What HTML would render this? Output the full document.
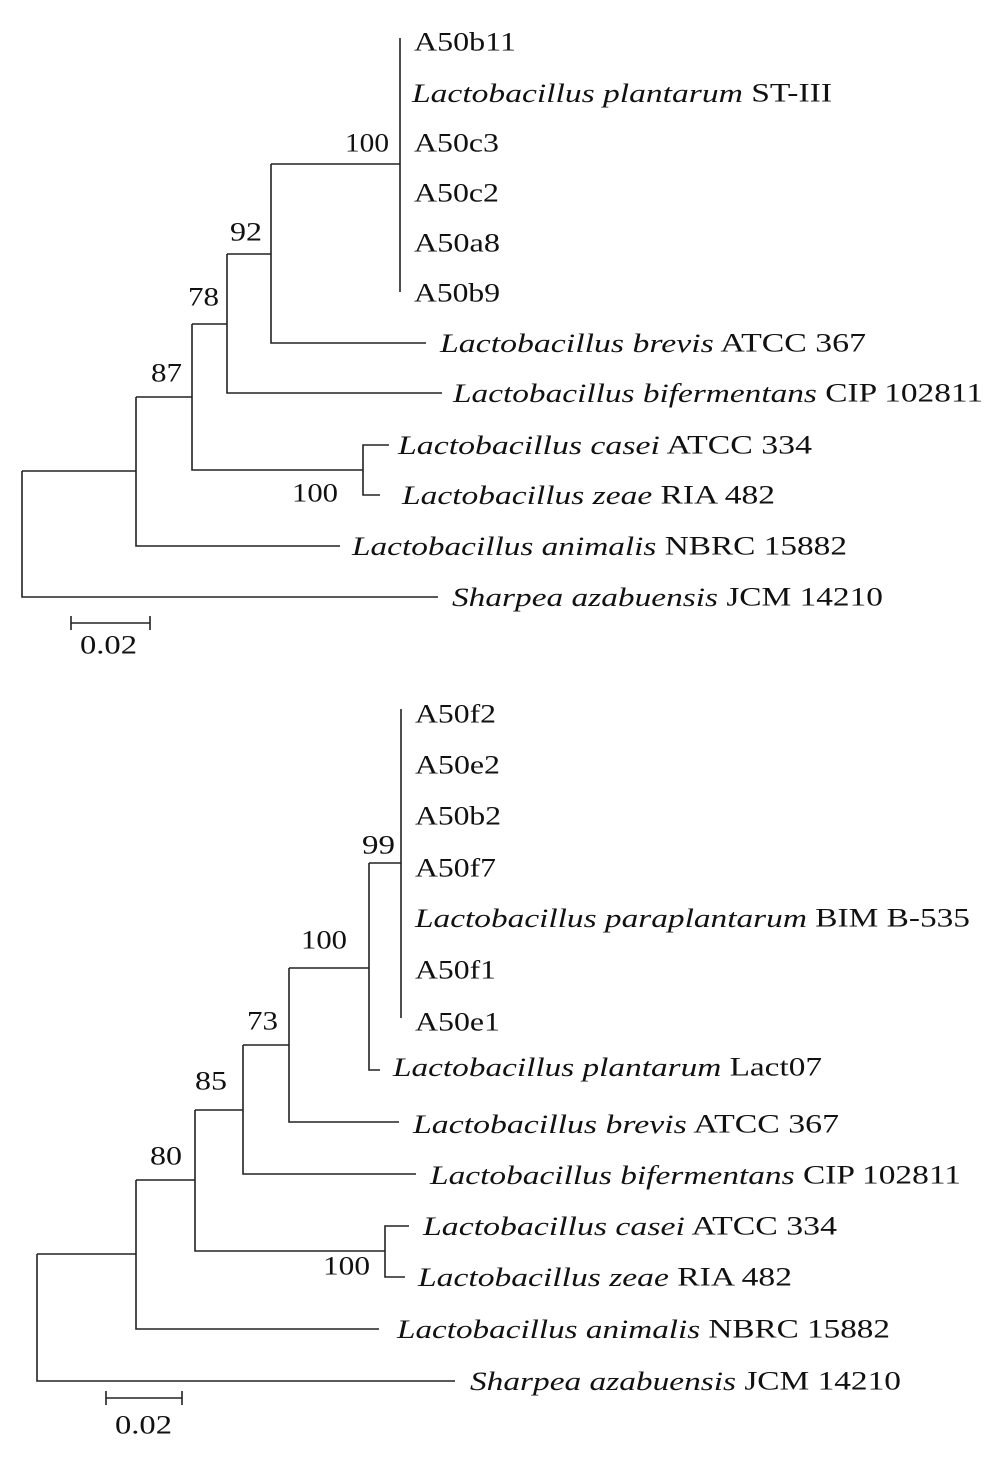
<!DOCTYPE html>
<html><head><meta charset="utf-8"><style>
html,body{margin:0;padding:0;background:#fff;}
svg text{font-family:"Liberation Serif",serif;font-size:26px;fill:#111;}
.i{font-style:italic;}
</style></head><body>
<svg width="992" height="1468" xmlns="http://www.w3.org/2000/svg">
<g stroke="#222" stroke-width="1.6" fill="none">
<path d="M22 471V597H438"/>
<path d="M22 471H136"/>
<path d="M136 397V546H340"/>
<path d="M136 397H192"/>
<path d="M192 324V470H363"/>
<path d="M389 445H363V495H380"/>
<path d="M192 324H227"/>
<path d="M227 254V393H442"/>
<path d="M227 254H271"/>
<path d="M271 164V343H426"/>
<path d="M271 164H400"/>
<path d="M400 38V292"/>
<path d="M71 623H150M71 616V630M150 616V630"/>
<path d="M37 1254V1381H455"/>
<path d="M37 1254H136"/>
<path d="M136 1180V1329H379"/>
<path d="M136 1180H195"/>
<path d="M195 1110V1251H385"/>
<path d="M409 1226H385V1277H405"/>
<path d="M195 1110H243"/>
<path d="M243 1045V1174H416"/>
<path d="M243 1045H289"/>
<path d="M289 968V1122H399"/>
<path d="M289 968H369"/>
<path d="M369 863V1070H380"/>
<path d="M369 863H401"/>
<path d="M401 709V1018"/>
<path d="M106 1398H182M106 1391V1405M182 1391V1405"/>
</g>
<g dominant-baseline="central">
<text x="414" y="42" textLength="102" lengthAdjust="spacingAndGlyphs">A50b11</text>
<text x="412" y="93" textLength="420" lengthAdjust="spacingAndGlyphs"><tspan class="i">Lactobacillus plantarum</tspan> ST-III</text>
<text x="414" y="143" textLength="85" lengthAdjust="spacingAndGlyphs">A50c3</text>
<text x="414" y="193" textLength="85" lengthAdjust="spacingAndGlyphs">A50c2</text>
<text x="414" y="243" textLength="86" lengthAdjust="spacingAndGlyphs">A50a8</text>
<text x="414" y="293" textLength="86" lengthAdjust="spacingAndGlyphs">A50b9</text>
<text x="440" y="343" textLength="426" lengthAdjust="spacingAndGlyphs"><tspan class="i">Lactobacillus brevis</tspan> ATCC 367</text>
<text x="453" y="393" textLength="530" lengthAdjust="spacingAndGlyphs"><tspan class="i">Lactobacillus bifermentans</tspan> CIP 102811</text>
<text x="398" y="445" textLength="414" lengthAdjust="spacingAndGlyphs"><tspan class="i">Lactobacillus casei</tspan> ATCC 334</text>
<text x="402" y="495" textLength="373" lengthAdjust="spacingAndGlyphs"><tspan class="i">Lactobacillus zeae</tspan> RIA 482</text>
<text x="352" y="546" textLength="495" lengthAdjust="spacingAndGlyphs"><tspan class="i">Lactobacillus animalis</tspan> NBRC 15882</text>
<text x="452" y="597" textLength="431" lengthAdjust="spacingAndGlyphs"><tspan class="i">Sharpea azabuensis</tspan> JCM 14210</text>
<text x="345" y="143" textLength="44" lengthAdjust="spacingAndGlyphs">100</text>
<text x="230" y="232" textLength="32" lengthAdjust="spacingAndGlyphs">92</text>
<text x="188" y="297" textLength="31" lengthAdjust="spacingAndGlyphs">78</text>
<text x="151" y="373" textLength="31" lengthAdjust="spacingAndGlyphs">87</text>
<text x="292" y="493" textLength="46" lengthAdjust="spacingAndGlyphs">100</text>
<text x="80" y="645" textLength="57" lengthAdjust="spacingAndGlyphs">0.02</text>

<text x="415" y="714" textLength="81" lengthAdjust="spacingAndGlyphs">A50f2</text>
<text x="415" y="765" textLength="85" lengthAdjust="spacingAndGlyphs">A50e2</text>
<text x="415" y="816" textLength="86" lengthAdjust="spacingAndGlyphs">A50b2</text>
<text x="415" y="868" textLength="81" lengthAdjust="spacingAndGlyphs">A50f7</text>
<text x="415" y="918" textLength="555" lengthAdjust="spacingAndGlyphs"><tspan class="i">Lactobacillus paraplantarum</tspan> BIM B-535</text>
<text x="415" y="970" textLength="81" lengthAdjust="spacingAndGlyphs">A50f1</text>
<text x="415" y="1022" textLength="85" lengthAdjust="spacingAndGlyphs">A50e1</text>
<text x="393" y="1067" textLength="429" lengthAdjust="spacingAndGlyphs"><tspan class="i">Lactobacillus plantarum</tspan> Lact07</text>
<text x="413" y="1124" textLength="426" lengthAdjust="spacingAndGlyphs"><tspan class="i">Lactobacillus brevis</tspan> ATCC 367</text>
<text x="430" y="1175" textLength="531" lengthAdjust="spacingAndGlyphs"><tspan class="i">Lactobacillus bifermentans</tspan> CIP 102811</text>
<text x="423" y="1226" textLength="414" lengthAdjust="spacingAndGlyphs"><tspan class="i">Lactobacillus casei</tspan> ATCC 334</text>
<text x="418" y="1277" textLength="374" lengthAdjust="spacingAndGlyphs"><tspan class="i">Lactobacillus zeae</tspan> RIA 482</text>
<text x="397" y="1329" textLength="493" lengthAdjust="spacingAndGlyphs"><tspan class="i">Lactobacillus animalis</tspan> NBRC 15882</text>
<text x="470" y="1381" textLength="431" lengthAdjust="spacingAndGlyphs"><tspan class="i">Sharpea azabuensis</tspan> JCM 14210</text>
<text x="362" y="845" textLength="33" lengthAdjust="spacingAndGlyphs">99</text>
<text x="301" y="940" textLength="46" lengthAdjust="spacingAndGlyphs">100</text>
<text x="247" y="1021" textLength="31" lengthAdjust="spacingAndGlyphs">73</text>
<text x="195" y="1081" textLength="32" lengthAdjust="spacingAndGlyphs">85</text>
<text x="150" y="1156" textLength="32" lengthAdjust="spacingAndGlyphs">80</text>
<text x="323" y="1266" textLength="47" lengthAdjust="spacingAndGlyphs">100</text>
<text x="115" y="1425" textLength="57" lengthAdjust="spacingAndGlyphs">0.02</text>
</g>
</svg>
</body></html>
